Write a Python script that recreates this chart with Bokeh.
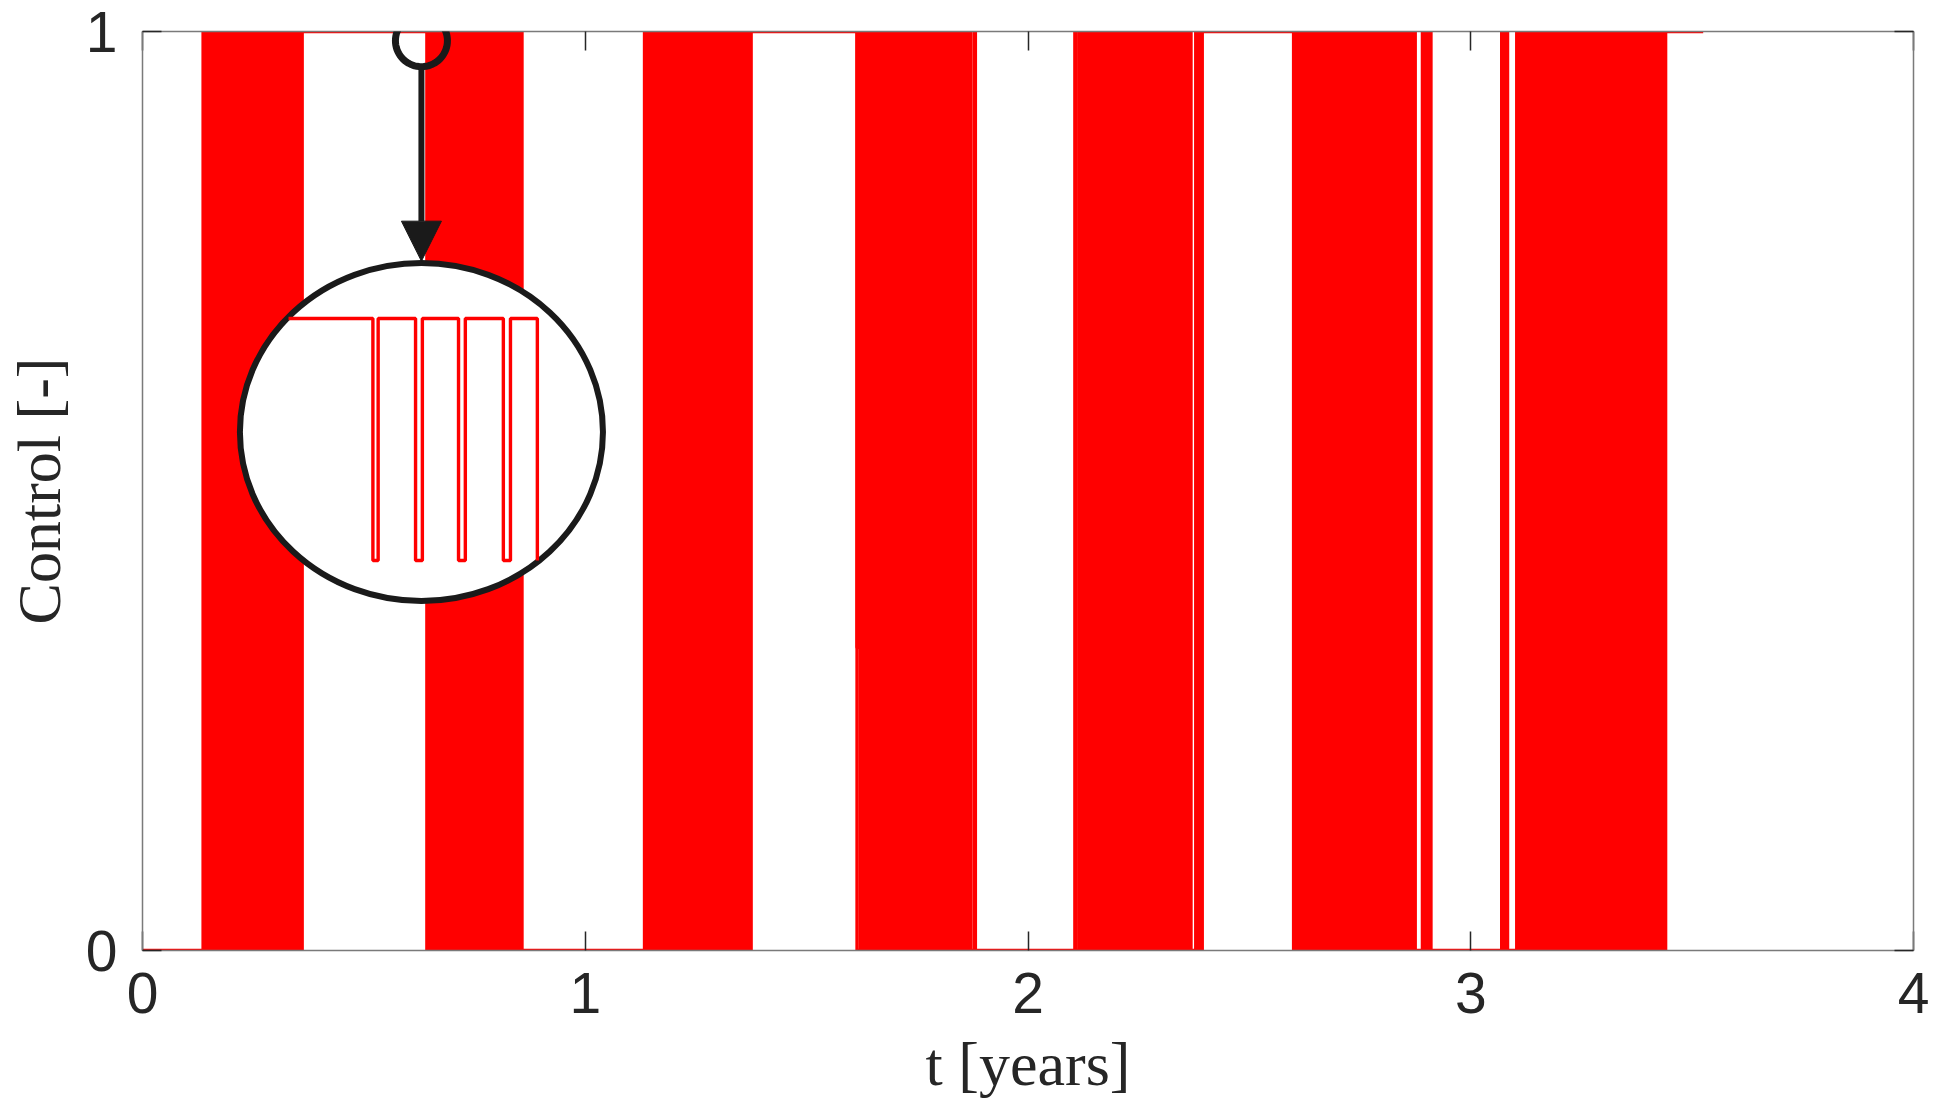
import math
from bokeh.plotting import figure
from bokeh.models import (Range1d, LinearAxis, FixedTicker, Arrow,
                          NormalHead, PolyAnnotation)
from bokeh.embed import file_html
from bokeh.resources import INLINE

# Control held between the fast-switching periods: the value holds from each
# time (years) until the next one
step_t = [0.000, 0.360, 0.643, 1.374, 1.614, 2.393, 2.874, 3.415, 3.525]
step_u = [0, 1, 0, 1, 0, 1, 0, 1, 1]

# Periods of fast bang-bang switching (years) and the range they switch over
burst_start = [0.137, 0.643, 1.134, 1.614, 1.622, 1.879, 2.106, 2.115,
               2.379, 2.600, 2.636, 2.891, 3.070, 3.104, 3.421, 3.433]
burst_end = [0.360, 0.857, 1.374, 1.622, 1.871, 1.881, 2.108, 2.368,
             2.393, 2.630, 2.874, 2.910, 3.083, 3.415, 3.426, 3.440]
burst_low = [0, 0, 0, 0.33, 0, 0, 0, 0, 0, 0, 0, 0, 0, 0, 0, 0]
burst_high = [1, 1, 1, 1, 1, 1, 1, 1, 1, 1, 1, 1, 1, 1, 1, 1]

# Magnified detail of the control around the start of the second period
zoom_t = 0.630          # centre of the magnified window (years)
zoom_u = 0.99
inset_t = [0.5870, 0.6143, 0.6160, 0.6281, 0.6303, 0.6420, 0.6442,
           0.6565, 0.6588, 0.6675]
inset_u = [1, 0, 1, 0, 1, 0, 1, 0, 1, 0]

x_ticks = [0, 1, 2, 3, 4]
y_ticks = [0, 1]

RED = "#ff0000"
INK = "#1a1a1a"
TXT = "#262626"

FW, FH = 1771, 919           # plot frame size in pixels
X0, X1, Y0, Y1 = 0, 4, 0, 1
LEFT, RIGHT, TOP, BOTTOM = 142, 25, 31, 152

p = figure(frame_width=FW, frame_height=FH,
           x_range=Range1d(X0, X1), y_range=Range1d(Y0, Y1),
           output_backend="svg", toolbar_location=None,
           min_border_left=LEFT, min_border_right=RIGHT,
           min_border_top=TOP, min_border_bottom=BOTTOM,
           background_fill_color="white", border_fill_color="white",
           outline_line_color=None)
p.grid.visible = False

bottom_axis = p.xaxis[0]
left_axis = p.yaxis[0]


def style_axis(ax, ticks, labelled, standoff=18):
    ax.ticker = FixedTicker(ticks=ticks)
    ax.axis_line_color = "#7a7a7a"
    ax.axis_line_width = 1.5
    ax.major_tick_line_color = TXT
    ax.major_tick_line_width = 1.5
    ax.major_tick_in = 19
    ax.major_tick_out = 0
    ax.minor_tick_line_color = None
    if labelled:
        ax.major_label_text_font = "Liberation Sans"
        ax.major_label_text_font_size = "57px"
        ax.major_label_text_color = TXT
        ax.major_label_standoff = standoff
    else:
        ax.major_label_overrides = {t: "" for t in ticks}
        ax.major_label_text_font_size = "0px"
        ax.major_label_standoff = 0


style_axis(bottom_axis, x_ticks, True, standoff=22)
style_axis(left_axis, y_ticks, True, standoff=25)
top_axis = LinearAxis()
right_axis = LinearAxis()
style_axis(top_axis, x_ticks, False)
style_axis(right_axis, y_ticks, False)
p.add_layout(top_axis, "above")
p.add_layout(right_axis, "right")

for ax, text, standoff in ((left_axis, "Control [-]", 10),
                           (bottom_axis, "t [years]", 14)):
    ax.axis_label = text
    ax.axis_label_text_font = "Liberation Serif"
    ax.axis_label_text_font_size = "62px"
    ax.axis_label_text_font_style = "normal"
    ax.axis_label_text_color = TXT
    ax.axis_label_standoff = standoff


def sx(x):
    """data x -> pixels from the frame's left edge"""
    return (x - X0) / (X1 - X0) * FW


def sy(y):
    """data y -> pixels up from the frame's bottom edge"""
    return (y - Y0) / (Y1 - Y0) * FH


# switching periods, filled solid at this scale
p.quad(left=burst_start, right=burst_end, bottom=burst_low, top=burst_high,
       fill_color=RED, line_color=RED, line_width=3.5, line_join="round")
# held control between them
p.step(x=step_t, y=step_u, mode="after", line_color=RED, line_width=3.5,
       line_join="round")

# magnifier: small circle on the trace, large ellipse showing the detail
circ_r = 26.0                      # pixels
circ_w = 2 * circ_r / FW * (X1 - X0)
circ_h = 2 * circ_r / FH * (Y1 - Y0)
ell_cx, ell_cy = zoom_t, 0.5642
ell_w, ell_h = 0.820, 0.3678
p.ellipse(x=[ell_cx], y=[ell_cy], width=[ell_w], height=[ell_h],
          fill_color="white", line_color=INK, line_width=6)

mag = ell_w / circ_w
lo = ell_cy - 0.380 * ell_h
hi = ell_cy + 0.336 * ell_h
ix = [ell_cx + (t - zoom_t) * mag for t in inset_t]
iy = [lo + u * (hi - lo) for u in inset_u]
p.step(x=ix, y=iy, mode="after", line_color=RED, line_width=3.4)

# the small circle reaches above the frame, so it is an annotation
n = 72
cx, cy = sx(zoom_t), sy(zoom_u)
p.add_layout(PolyAnnotation(
    xs=[cx + circ_r * math.cos(2 * math.pi * k / n) for k in range(n)],
    ys=[cy + circ_r * math.sin(2 * math.pi * k / n) for k in range(n)],
    xs_units="screen", ys_units="screen",
    fill_color=None, fill_alpha=0, line_color=INK, line_alpha=1.0,
    line_width=7))

p.add_layout(Arrow(end=NormalHead(size=40, fill_color=INK, line_color=INK,
                                  line_width=1),
                   x_start=zoom_t, y_start=zoom_u - circ_h / 2 - 0.003,
                   x_end=zoom_t, y_end=ell_cy + ell_h / 2 + 0.002,
                   line_color=INK, line_width=6))

open("out.html", "w").write(file_html(p, INLINE))
